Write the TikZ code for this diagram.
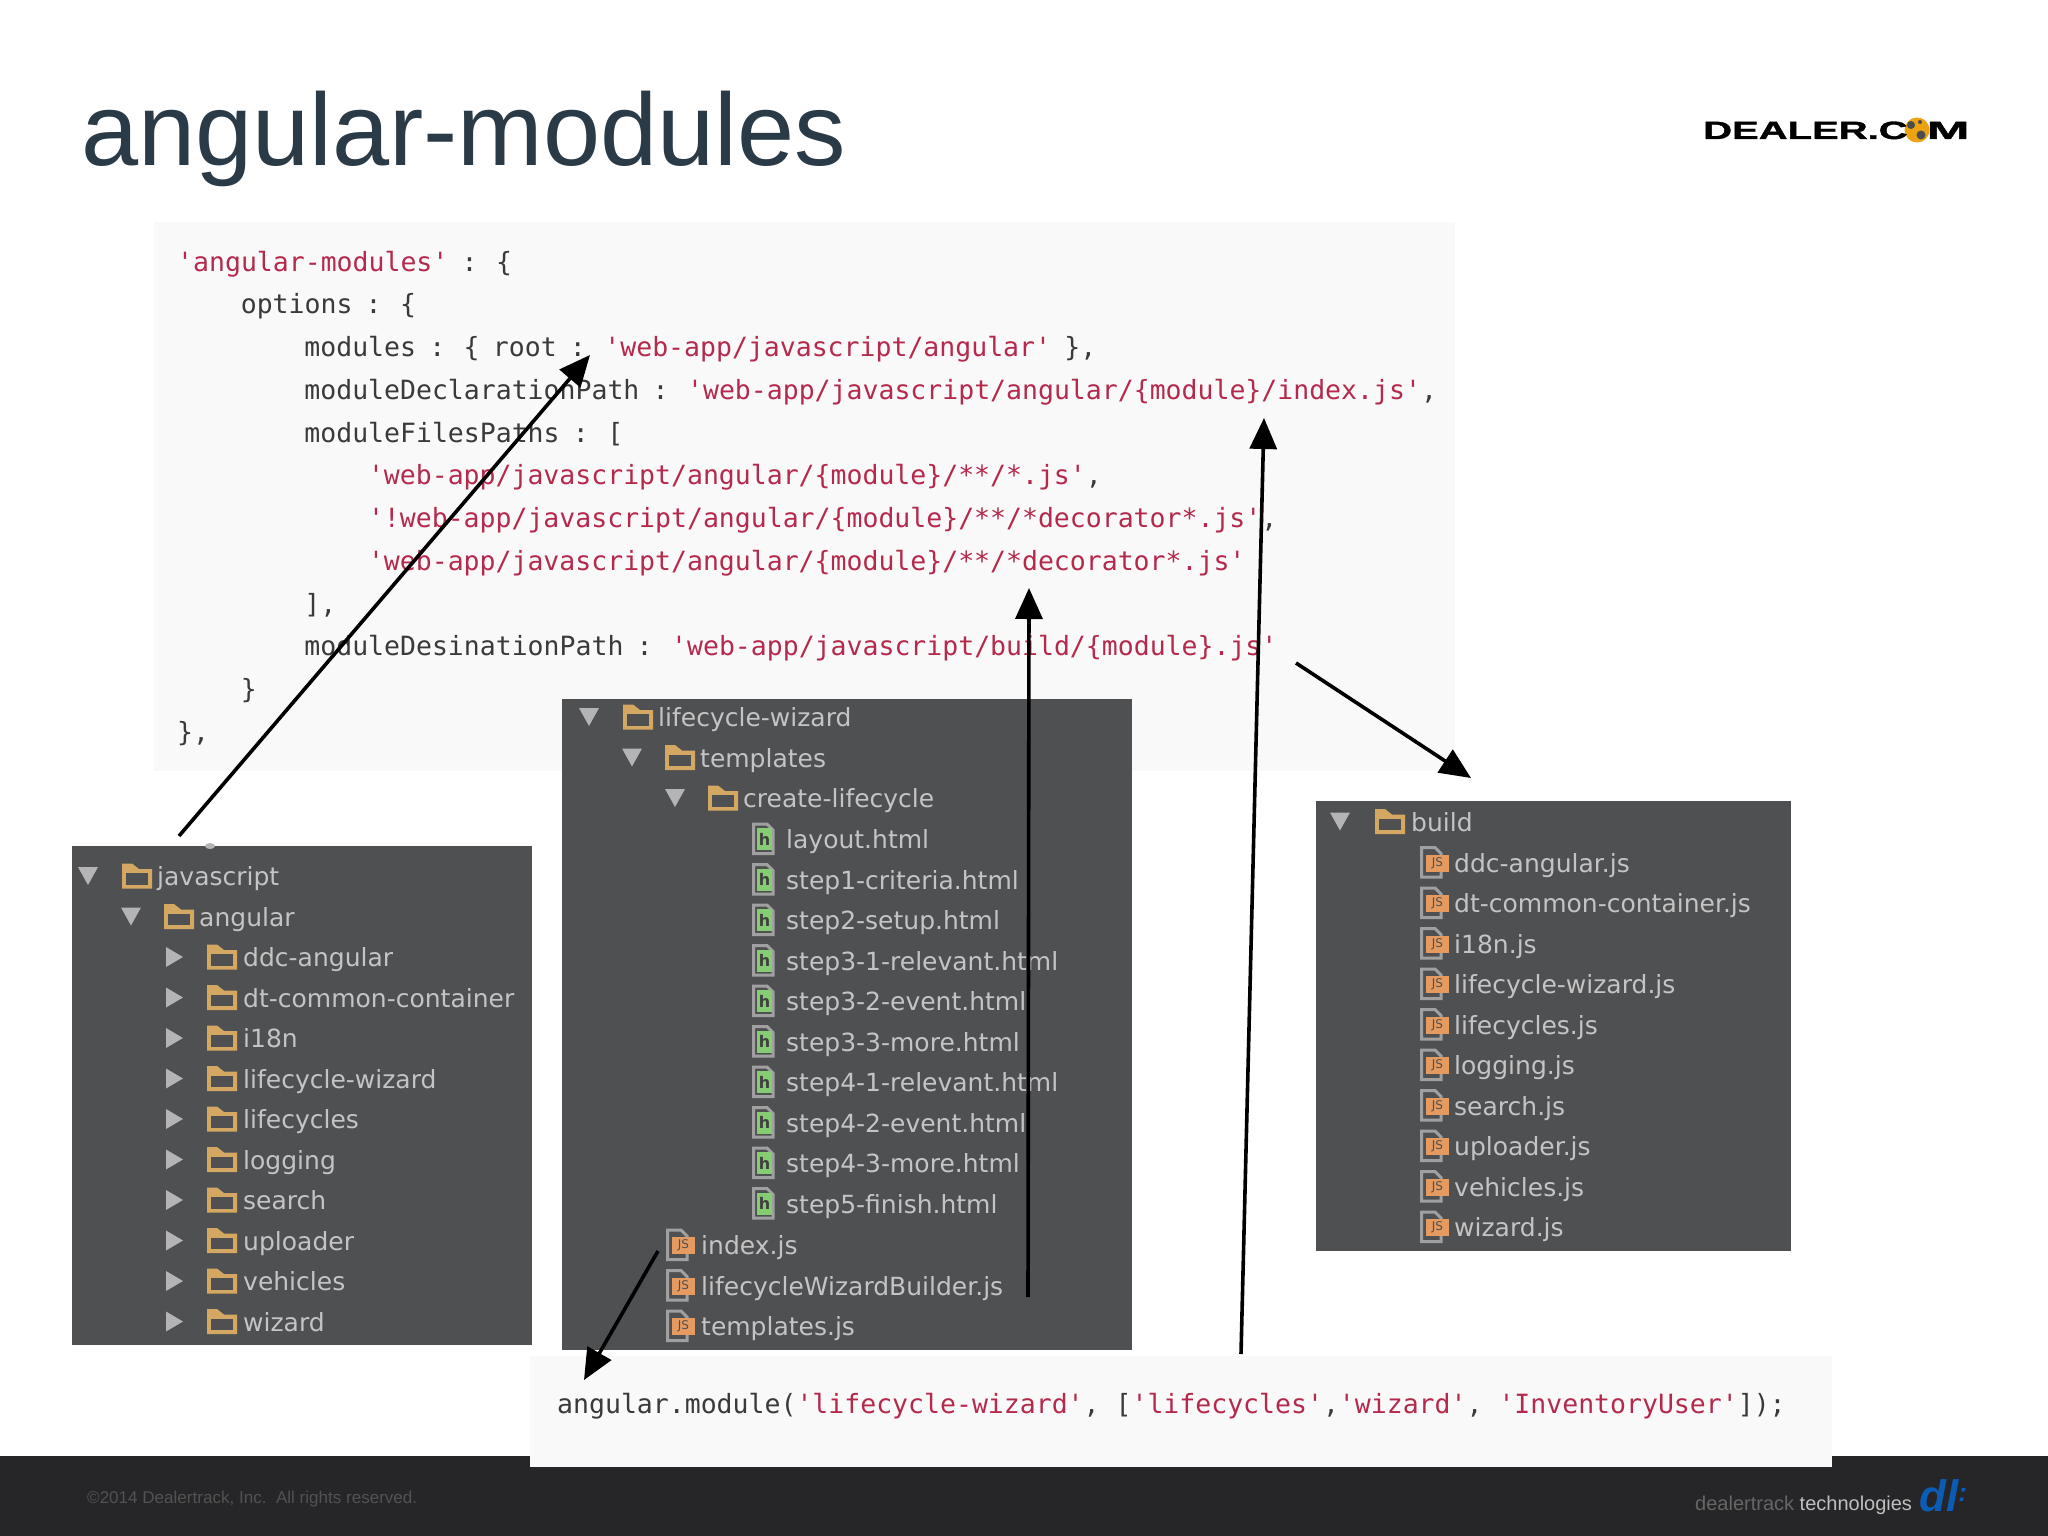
\documentclass[tikz,border=0pt]{standalone}
\usepackage{fontspec}
\usepackage{graphicx}
\usetikzlibrary{arrows.meta}
\setmainfont{Liberation Sans}
\newfontfamily\codefont{DejaVu Sans Mono}
\newfontfamily\treefont{DejaVu Sans}
\newfontfamily\logofont[FakeBold=1.2]{Liberation Sans Bold}
\definecolor{panelgrey}{HTML}{4F5052}
\definecolor{codebg}{HTML}{F9F9FA}
\definecolor{codered}{HTML}{B52A4C}
\definecolor{codedark}{HTML}{3A3A3C}
\definecolor{foldercol}{HTML}{D4A862}
\definecolor{treetext}{HTML}{C4C4C4}
\definecolor{tricol}{HTML}{B4B4B6}
\definecolor{pagecol}{HTML}{A0A0A0}
\definecolor{jscol}{HTML}{E59A60}
\definecolor{htmlcol}{HTML}{86CC72}
\definecolor{footerbg}{HTML}{262628}
\definecolor{titlecol}{HTML}{2A3B47}
\definecolor{globecol}{HTML}{EBA312}
\definecolor{dtblue}{HTML}{0B5CB5}
\newcommand{\Rd}[1]{\textcolor{codered}{#1}}
\newcommand{\narrowspaces}{\spaceskip=13.2pt\relax}
\tikzset{
  codeline/.style={anchor=base west,inner sep=0pt,text=codedark,font=\codefont\fontsize{26.5}{30}\selectfont},
  treerow/.style={anchor=base west,inner sep=0pt,text=treetext,font=\treefont\fontsize{25}{30}\selectfont},
  linkarrow/.style={draw=black,line width=3.6pt,-{Triangle[length=31pt,width=27pt]}},
  darkpanel/.style={fill=panelgrey,draw=none},
  lightpanel/.style={fill=codebg,draw=none}
}
% icons: #1 left x, #2 centre y
\newcommand{\fld}[2]{%
  \fill[foldercol] (#1,#2-12.5) -- (#1+10,#2-12.5) -- (#1+17,#2-7) -- (#1+30,#2-7) -- (#1+30,#2+12.5) -- (#1,#2+12.5) -- cycle;
  \fill[panelgrey] (#1+4,#2-3) rectangle (#1+26,#2+8.5);}
\newcommand{\tridown}[2]{\fill[tricol] (#1,#2-9) -- (#1+20,#2-9) -- (#1+10,#2+9) -- cycle;}
\newcommand{\triright}[2]{\fill[tricol] (#1,#2-10) -- (#1+17,#2) -- (#1,#2+10) -- cycle;}
\newcommand{\pageicon}[2]{%
  \draw[pagecol,line width=3pt,fill=panelgrey] (#1+1.5,#2-15) -- (#1+15,#2-15) -- (#1+21,#2-9) -- (#1+21,#2+14.5) -- (#1+1.5,#2+14.5) -- cycle;}
\newcommand{\jsicon}[2]{\pageicon{#1}{#2}%
  \fill[jscol] (#1+6,#2-8) rectangle (#1+29,#2+9);
  \node[inner sep=0pt,text=panelgrey,font=\treefont\fontsize{12}{12}\selectfont] at (#1+17.5,#2+0.5) {JS};}
\newcommand{\htmlicon}[2]{\pageicon{#1}{#2}%
  \fill[htmlcol] (#1+5,#2-11) rectangle (#1+20,#2+11);
  \node[inner sep=0pt,text=black!75,font=\treefont\bfseries\fontsize{16}{16}\selectfont] at (#1+12.5,#2) {h};}
\begin{document}
\begin{tikzpicture}[x=1pt,y=-1pt]
\useasboundingbox (0,0) rectangle (2048,1536);
\fill[white] (0,0) rectangle (2048,1536);
% footer
\fill[footerbg] (0,1456) rectangle (2048,1536);
\node[anchor=base west,inner sep=0pt,text=black!68,font=\fontsize{17.05}{20}\selectfont] (copy) at (87,1503) {©2014 Dealertrack, Inc.\ \ All rights reserved.};
\node[anchor=base west,inner sep=0pt,font=\fontsize{20}{22}\selectfont] (dtt) at (1695,1510) {\textcolor{black!60}{dealertrack} \textcolor{black!25}{technologies}};
\node[anchor=base west,inner sep=0pt,text=dtblue,font=\bfseries\itshape\fontsize{44}{46}\selectfont] (dtl) at (1919,1511) {dl\raisebox{10pt}{\fontsize{26}{26}\selectfont:}};
% title
\node[anchor=base west,inner sep=0pt,text=titlecol,font=\fontsize{102.7}{110}\selectfont] (title) at (81,165) {angular-modules};
% logo
\fill[globecol] (1917,130) circle (12.5);
\node[anchor=base west,inner sep=0pt,font=\logofont\fontsize{25}{26}\selectfont] (logo) at (1703,139) {\scalebox{1.6}[1]{DEALER.C}\kern0.5pt\textcolor{globecol}{\scalebox{0.9}[1]{O}}\kern1pt\scalebox{2.05}[1]{M}};
\fill[black!70] (1911,125) circle (4) (1921,135) circle (4.5) (1920,122) circle (2);
% code panel
\fill[lightpanel] (154,222) rectangle (1455,771);
\foreach \n/\ind/\txt in {
 0/0/{\Rd{'angular-modules'} : \{},
 1/4/{options : \{},
 2/8/{modules : \{ root : \Rd{'web-app/javascript/angular'} \},},
 3/8/{moduleDeclarationPath : \Rd{'web-app/javascript/angular/\{module\}/index.js'},},
 4/8/{moduleFilesPaths : [},
 5/12/{\Rd{'web-app/javascript/angular/\{module\}/**/*.js'},},
 6/12/{\Rd{'!web-app/javascript/angular/\{module\}/**/*decorator*.js'},},
 7/12/{\Rd{'web-app/javascript/angular/\{module\}/**/*decorator*.js'}},
 8/8/{],},
 9/8/{moduleDesinationPath : \Rd{'web-app/javascript/build/\{module\}.js'}},
 10/4/{\}},
 11/0/{\},}}
{ \node[codeline] (code\n) at ({177+\ind*15.9},{271+\n*42.75}) {\narrowspaces\txt}; }
% left panel
\fill[darkpanel] (72,846) rectangle (532,1345);
\fill[tricol] (210,846) ellipse (5 and 3);
\tridown{78}{876} \fld{122}{876}
\node[treerow] (ljs) at (157,885.5) {javascript};
\tridown{121}{916.5} \fld{164}{916.5}
\node[treerow] (lang) at (199,926) {angular};
\foreach \n/\t in {0/ddc-angular,1/dt-common-container,2/i18n,3/lifecycle-wizard,4/lifecycles,5/logging,6/search,7/uploader,8/vehicles,9/wizard}{
  \pgfmathsetmacro\yy{957+\n*40.5}
  \triright{166}{\yy} \fld{207}{\yy}
  \node[treerow] (lrow\n) at (243,\yy+9.5) {\t};
}
% middle panel
\fill[darkpanel] (562,699) rectangle (1132,1350);
\tridown{579}{717} \fld{623}{717}
\node[treerow] (mlw) at (658,726.5) {lifecycle-wizard};
\tridown{622}{757.5} \fld{665}{757.5}
\node[treerow] (mtpl) at (700,767) {templates};
\tridown{665}{798} \fld{708}{798}
\node[treerow] (mcl) at (743,807.5) {create-lifecycle};
\foreach \n/\t in {0/layout.html,1/step1-criteria.html,2/step2-setup.html,3/step3-1-relevant.html,4/step3-2-event.html,5/step3-3-more.html,6/step4-1-relevant.html,7/step4-2-event.html,8/step4-3-more.html,9/step5-finish.html}{
  \pgfmathsetmacro\yy{839+\n*40.5}
  \htmlicon{752}{\yy}
  \node[treerow] (mrow\n) at (786,\yy+9.5) {\t};
}
\foreach \n/\t in {0/index.js,1/lifecycleWizardBuilder.js,2/templates.js}{
  \pgfmathsetmacro\yy{1245+\n*40.5}
  \jsicon{666}{\yy}
  \node[treerow] (mjs\n) at (701,\yy+9.5) {\t};
}
% right panel
\fill[darkpanel] (1316,801) rectangle (1791,1251);
\tridown{1330}{821.5} \fld{1375}{821.5}
\node[treerow] (rb) at (1411,831) {build};
\foreach \n/\t in {0/ddc-angular.js,1/dt-common-container.js,2/i18n.js,3/lifecycle-wizard.js,4/lifecycles.js,5/logging.js,6/search.js,7/uploader.js,8/vehicles.js,9/wizard.js}{
  \pgfmathsetmacro\yy{862.5+\n*40.5}
  \jsicon{1420}{\yy}
  \node[treerow] (rrow\n) at (1454,\yy+9.5) {\t};
}
% bottom code
\fill[lightpanel] (530,1356) rectangle (1832,1467);
\node[codeline] (decl) at (557,1413) {angular.module(\Rd{'lifecycle-wizard'}, [\Rd{'lifecycles'},\Rd{'wizard'}, \Rd{'InventoryUser'}]);};
% arrows
\coordinate (a1s) at (179,836); \coordinate (a1e) at (590,355);
\coordinate (a2s) at (1028,1297); \coordinate (a2e) at (1029,588);
\coordinate (a3s) at (1241,1354); \coordinate (a3e) at (1264,418);
\coordinate (a4s) at (1296,663); \coordinate (a4e) at (1471,778);
\coordinate (a5s) at (658,1251); \coordinate (a5e) at (584,1380);
\draw[linkarrow] (a1s) -- (a1e);
\draw[linkarrow] (a2s) -- (a2e);
\draw[linkarrow] (a3s) -- (a3e);
\draw[linkarrow] (a4s) -- (a4e);
\draw[linkarrow] (a5s) -- (a5e);
\end{tikzpicture}
\end{document}
